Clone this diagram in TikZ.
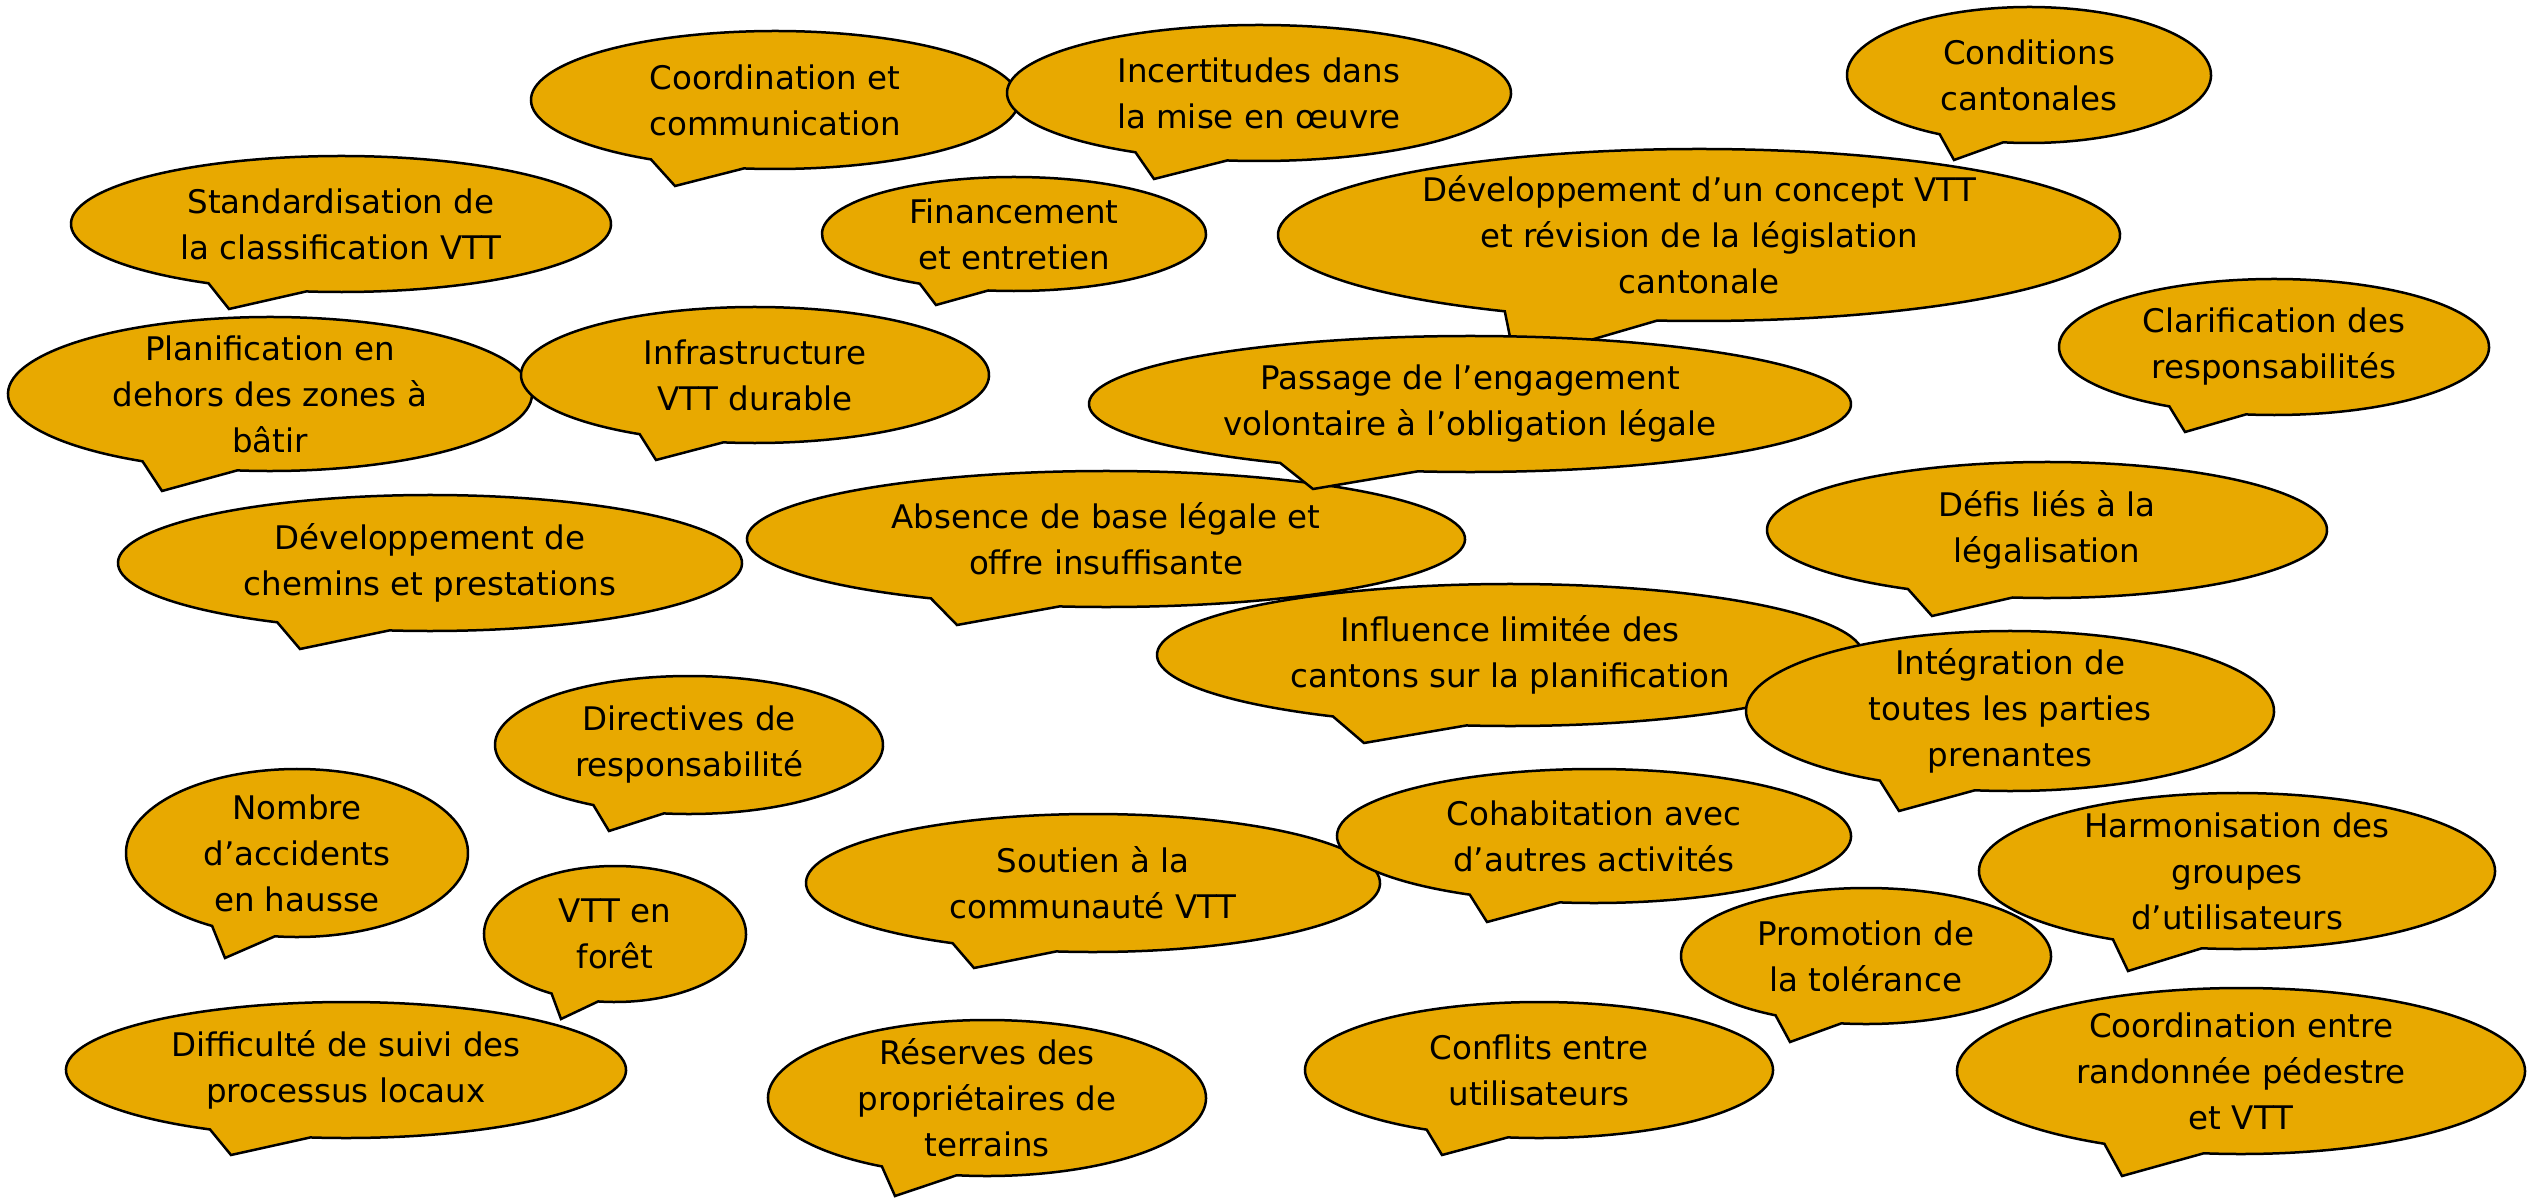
\documentclass[tikz,border=0pt]{standalone}
\usepackage{fontspec}
\setmainfont{DejaVu Sans}
\definecolor{bubblegold}{RGB}{232,169,0}
\tikzset{
  bubbleshape/.style={fill=bubblegold, draw=black, line width=2.5pt, line join=miter},
  bubbletext/.style={font=\fontsize{32.5}{46}\selectfont, align=center, inner sep=0pt, text=black}
}
% #1 name, #2 cx, #3 cy, #4 rx, #5 ry, #6 Lx, #7 Ly, #8 Rx, #9 Ry ; then {tip x,y}{text}
\newcommand\bubble[9]{%
  \pgfmathsetmacro\bubtL{atan2((#7-#3)/#5,(#6-#2)/#4)}%
  \pgfmathsetmacro\bubtR{atan2((#9-#3)/#5,(#8-#2)/#4)+360}%
  \def\bubcx{#2}\def\bubcy{#3}\def\bubrx{#4}\def\bubry{#5}\def\bubname{#1}%
  \bubblefinish}
\newcommand\bubblefinish[2]{%
  \path[bubbleshape] (\bubcx,\bubcy) ++(\bubtL:\bubrx\space and \bubry)
     arc[start angle=\bubtL, end angle=\bubtR, x radius=\bubrx, y radius=\bubry]
     -- (#1) -- cycle;
  \node[bubbletext] (\bubname) at (\bubcx,\bubcy) {#2};
}
\begin{document}
\begin{tikzpicture}[x=1pt,y=-1pt]
\fill[white] (0,0) rectangle (2529,1199);
\useasboundingbox (0,0) rectangle (2529,1199);

\bubble{coordcom}{775}{100}{244}{69}{656}{157}{744}{168}{675,186}{Coordination et\\communication}
\bubble{incert}{1259}{93}{252}{68}{1136}{152}{1227}{161}{1154,179}{Incertitudes dans\\la mise en œuvre}
\bubble{standard}{341}{224}{270}{68}{209}{283}{306}{292}{229,309}{Standardisation de\\la classification VTT}
\bubble{finance}{1014}{234}{192}{57}{921}{283}{988}{291}{936,305}{Financement\\et entretien}
\bubble{planif}{270}{394}{262}{77}{143}{461}{237}{471}{162,491}{Planification en\\dehors des zones à\\bâtir}
\bubble{infra}{755}{375}{234}{68}{640}{434}{723}{443}{656,460}{Infrastructure\\VTT durable}
\bubble{devchemins}{430}{563}{312}{68}{278}{622}{389}{631}{300,649}{Développement de\\chemins et prestations}
\bubble{absence}{1106}{539}{359}{68}{929}{599}{1059}{607}{957,625}{Absence de base légale et\\offre insuffisante}
\bubble{conditions}{2029}{75}{182}{68}{1940}{134}{2003}{143}{1954,160}{Conditions\\cantonales}
\bubble{devconcept}{1699}{235}{421}{86}{1503}{312}{1657}{321}{1515,362}{Développement d’un concept VTT\\et révision de la législation\\cantonale}
\bubble{passage}{1470}{404}{381}{68}{1280}{463}{1418}{471}{1313,489}{Passage de l’engagement\\volontaire à l’obligation légale}
\bubble{clarif}{2274}{347}{215}{68}{2170}{406}{2246}{414}{2185,432}{Clarification des\\responsabilités}
\bubble{defis}{2047}{530}{280}{68}{1908}{589}{2013}{597}{1932,616}{Défis liés à la\\légalisation}
\bubble{influence}{1510}{655}{353}{71}{1337}{715}{1466}{726}{1364,743}{Influence limitée des\\cantons sur la planification}
\bubble{integration}{2010}{711}{264}{80}{1881}{780}{1975}{790}{1899,811}{Intégration de\\toutes les parties\\prenantes}
\bubble{soutien}{1093}{883}{287}{69}{953}{943}{1057}{950}{974,968}{Soutien à la\\communauté VTT}
\bubble{cohab}{1594}{836}{257}{67}{1469}{895}{1559}{904}{1487,922}{Cohabitation avec\\d’autres activités}
\bubble{harmo}{2237}{871}{258}{78}{2110}{941}{2201}{950}{2128,971}{Harmonisation des\\groupes\\d’utilisateurs}
\bubble{promo}{1866}{956}{185}{68}{1776}{1015}{1841}{1024}{1790,1042}{Promotion de\\la tolérance}
\bubble{conflits}{1539}{1070}{234}{68}{1426}{1130}{1507}{1139}{1442,1155}{Conflits entre\\utilisateurs}
\bubble{coordrando}{2241}{1071}{284}{83}{2102}{1145}{2203}{1155}{2122,1176}{Coordination entre\\randonnée pédestre\\et VTT}
\bubble{directives}{689}{745}{194}{69}{595}{804}{664}{813}{609,831}{Directives de\\responsabilité}
\bubble{nombre}{297}{853}{171}{84}{212}{926}{275}{936}{225,958}{Nombre\\d’accidents\\en hausse}
\bubble{vttforet}{615}{934}{131}{68}{551}{994}{598}{1002}{561,1019}{VTT en\\forêt}
\bubble{difficulte}{346}{1070}{280}{68}{211}{1129}{310}{1138}{231,1155}{Difficulté de suivi des\\processus locaux}
\bubble{reserves}{987}{1098}{219}{78}{881}{1167}{956}{1177}{895,1196}{Réserves des\\propriétaires de\\terrains}
\end{tikzpicture}
\end{document}
